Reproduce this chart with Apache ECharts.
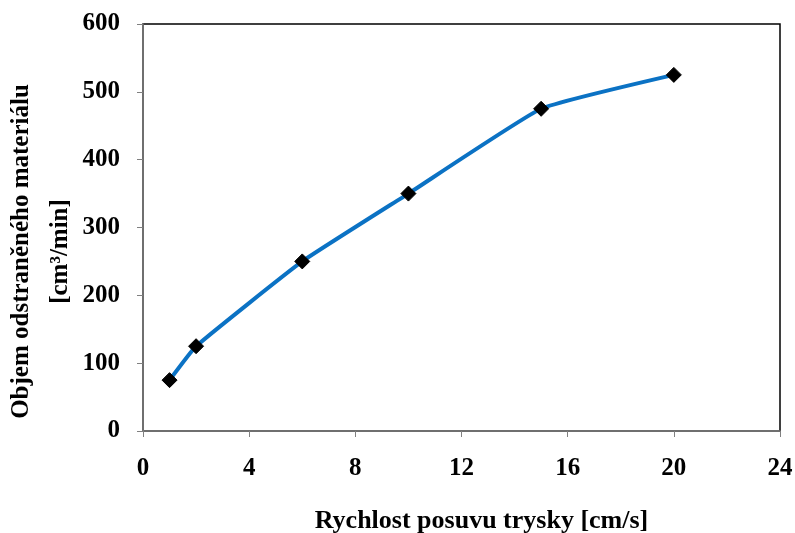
<!DOCTYPE html>
<html>
<head>
<meta charset="utf-8">
<script src="https://cdn.jsdelivr.net/npm/echarts@6/dist/echarts.min.js"></script>
<style>
html,body{margin:0;padding:0;background:#fff;}
#chart{width:795px;height:533px;}
</style>
</head>
<body>
<div id="chart"></div>
<script>
// Jet feed speed [cm/s] vs. removed material volume [cm3/min]
const speeds = [1, 2, 6, 10, 15, 20];
const removedVolume = [75, 125, 250, 350, 475, 525];
const xTicks = [0, 4, 8, 12, 16, 20, 24];
const yTicks = [0, 100, 200, 300, 400, 500, 600];

const font = '"Liberation Serif", "Times New Roman", serif';
const chart = echarts.init(document.getElementById('chart'));
chart.setOption({
  animation: false,
  backgroundColor: '#fff',
  grid: {
    left: 143, right: 15, top: 24, bottom: 102,
    containLabel: false, outerBoundsMode: 'none',
    show: true, borderColor: '#000', borderWidth: 1.5
  },
  xAxis: {
    type: 'value', min: xTicks[0], max: xTicks[xTicks.length - 1], interval: 4,
    axisLine: {show: true, onZero: false, lineStyle: {color: '#808080', width: 1.5}},
    axisTick: {show: true, inside: false, length: 6, lineStyle: {color: '#808080', width: 1}},
    splitLine: {show: false},
    axisLabel: {color: '#000', fontFamily: font, fontWeight: 'bold', fontSize: 25, margin: 25},
    name: 'Rychlost posuvu trysky [cm/s]', nameLocation: 'middle', nameGap: 77, nameMoveOverlap: false,
    nameTextStyle: {color: '#000', fontFamily: font, fontWeight: 'bold', fontSize: 26, padding: [0, 0, 0, 40]}
  },
  yAxis: {
    type: 'value', min: yTicks[0], max: yTicks[yTicks.length - 1], interval: 100,
    axisLine: {show: true, lineStyle: {color: '#808080', width: 1.5}},
    axisTick: {show: true, inside: false, length: 6, lineStyle: {color: '#808080', width: 1}},
    splitLine: {show: false},
    axisLabel: {color: '#000', fontFamily: font, fontWeight: 'bold', fontSize: 25, margin: 23},
    name: 'Objem odstraněného materiálu\n[cm³/min]', nameLocation: 'middle', nameGap: 63, nameRotate: 90,
    nameMoveOverlap: false,
    nameTextStyle: {color: '#000', fontFamily: font, fontWeight: 'bold', fontSize: 25, lineHeight: 39, padding: [0, 48, 0, 0]}
  },
  series: [{
    type: 'line',
    data: speeds.map((s, i) => [s, removedVolume[i]]),
    smooth: 0.12,
    lineStyle: {color: '#0B72C4', width: 4},
    symbol: 'diamond', symbolSize: 15,
    itemStyle: {color: '#000', borderColor: '#000'}
  }]
});
</script>
</body>
</html>
